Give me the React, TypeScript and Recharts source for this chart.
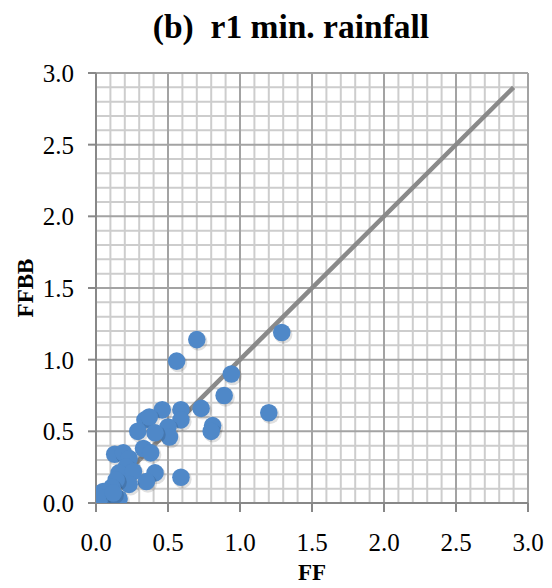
import React from 'react';
import { ScatterChart, Scatter, XAxis, YAxis, ReferenceLine } from 'recharts';

const titleText = '(b)  r1 min. rainfall';
const xTitle = 'FF';
const yTitle = 'FFBB';

const ffValues = [1.29, 0.70, 0.56, 0.94, 0.89, 0.73, 0.59, 0.46, 1.20, 0.59, 0.81, 0.80, 0.50, 0.51, 0.59,
  0.34, 0.37, 0.29, 0.41, 0.33, 0.38, 0.13, 0.19, 0.23, 0.21, 0.16, 0.26, 0.41, 0.35, 0.23, 0.14, 0.11, 0.05,
  0.08, 0.16, 0.03, 0.12];
const ffbbValues = [1.19, 1.14, 0.99, 0.90, 0.75, 0.66, 0.65, 0.65, 0.63, 0.58, 0.54, 0.50, 0.53, 0.46, 0.18,
  0.58, 0.60, 0.50, 0.49, 0.38, 0.35, 0.34, 0.35, 0.31, 0.25, 0.21, 0.22, 0.21, 0.15, 0.13, 0.16, 0.11, 0.08,
  0.04, 0.03, 0.04, 0.07];

const lineX = [0, 2.9];
const lineY = [0, 2.9];

const axisTicks = [0, 0.5, 1.0, 1.5, 2.0, 2.5, 3.0];
const minorGrid = [0.1, 0.2, 0.3, 0.4, 0.6, 0.7, 0.8, 0.9, 1.1, 1.2, 1.3, 1.4, 1.6, 1.7, 1.8,
  1.9, 2.1, 2.2, 2.3, 2.4, 2.6, 2.7, 2.8, 2.9];

const points = ffValues.map((x, i) => ({ x, y: ffbbValues[i] }));
const diagonal = lineX.map((x, i) => ({ x, y: lineY[i] }));

const FONT = '"Liberation Serif", "Times New Roman", serif';

const Dot = (props: any) => {
  const { cx, cy } = props;
  if (cx == null || cy == null) return <g />;
  return (
    <g>
      <circle cx={cx + 1.5} cy={cy + 2} r={9.2} fill="rgba(0,0,0,0.12)" />
      <circle cx={cx} cy={cy} r={8.8} fill="#4f88c8" />
    </g>
  );
};

const NoDot = () => <g />;

const XLabel = (props: any) => {
  const vb = props.viewBox || {};
  return (
    <text x={vb.x + vb.width / 2} y={vb.y + 77} textAnchor="middle" fontFamily={FONT} fontWeight="bold" fontSize={23} fill="#000">
      {xTitle}
    </text>
  );
};

const YLabel = (props: any) => {
  const vb = props.viewBox || {};
  const cx = 17;
  const cy = vb.y + vb.height / 2;
  return (
    <text x={cx} y={cy} transform={`rotate(-90 ${cx} ${cy})`} textAnchor="middle" dominantBaseline="central" fontFamily={FONT} fontWeight="bold" fontSize={23} fill="#000">
      {yTitle}
    </text>
  );
};

export default function App() {
  return (
    <div style={{ position: 'relative', width: 544, height: 580 }}>
      <div
        style={{
          position: 'absolute',
          left: 283,
          top: 3,
          transform: 'translateX(-50%)',
          whiteSpace: 'pre',
          fontFamily: FONT,
          fontWeight: 'bold',
          fontSize: 33.5,
          lineHeight: '32px',
          color: '#000',
        }}
      >
        {titleText}
      </div>
      <ScatterChart width={544} height={580} margin={{ top: 65, right: 24, bottom: 0, left: 0 }}>
        {minorGrid.map((v) => (
          <ReferenceLine key={'mx' + v} x={v} stroke="#cdcdcd" strokeWidth={2} />
        ))}
        {minorGrid.map((v) => (
          <ReferenceLine key={'my' + v} y={v} stroke="#cdcdcd" strokeWidth={2} />
        ))}
        {axisTicks.map((v) => (
          <ReferenceLine key={'vx' + v} x={v} stroke="#a3a3a3" strokeWidth={2} />
        ))}
        {axisTicks.map((v) => (
          <ReferenceLine key={'hy' + v} y={v} stroke="#a3a3a3" strokeWidth={2} />
        ))}
        <XAxis
          type="number"
          dataKey="x"
          domain={[0, 3]}
          ticks={axisTicks}
          tickFormatter={(v: number) => v.toFixed(1)}
          height={85}
          tickSize={9}
          tickMargin={21}
          axisLine={{ stroke: '#888', strokeWidth: 2 }}
          tickLine={{ stroke: '#888', strokeWidth: 2 }}
          tick={{ fontFamily: FONT, fontSize: 25, fill: '#000' }}
          label={{ content: XLabel }}
          allowDataOverflow
        />
        <YAxis
          type="number"
          dataKey="y"
          domain={[0, 3]}
          ticks={axisTicks}
          tickFormatter={(v: number) => v.toFixed(1)}
          width={88}
          tickSize={8}
          tickMargin={14}
          axisLine={{ stroke: '#888', strokeWidth: 2 }}
          tickLine={{ stroke: '#888', strokeWidth: 2 }}
          tick={{ fontFamily: FONT, fontSize: 25, fill: '#000' }}
          label={{ content: YLabel }}
          allowDataOverflow
        />
        <Scatter data={diagonal} line={{ stroke: '#8a8a8a', strokeWidth: 4.5 }} shape={NoDot} isAnimationActive={false} />
        <Scatter data={points} shape={Dot} isAnimationActive={false} />
      </ScatterChart>
    </div>
  );
}
